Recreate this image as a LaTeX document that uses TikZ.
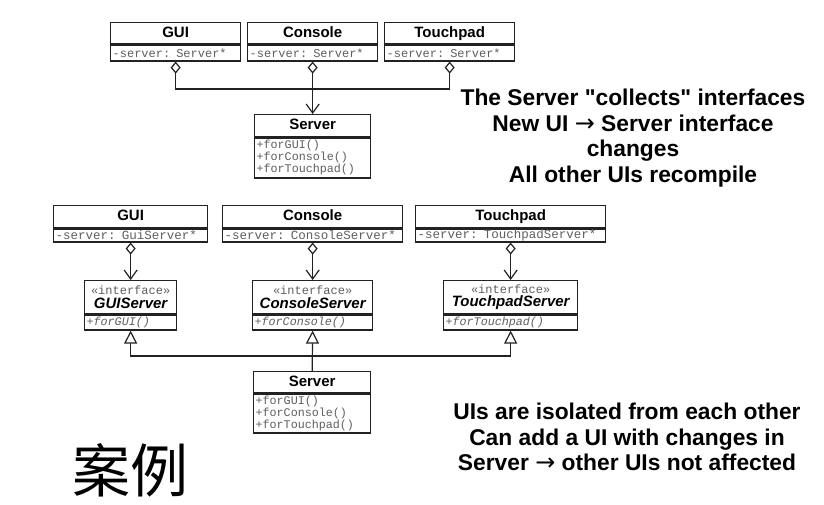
\documentclass[tikz,border=0pt]{standalone}
\usepackage{fontspec}
\setmainfont{Liberation Sans}[Ligatures=TeXOff]
\setmonofont{Liberation Mono}
\newfontfamily\cjk{Noto Sans CJK SC}
\newfontfamily\arrowfont{DejaVu Sans}
\usetikzlibrary{arrows.meta}
\definecolor{monogray}{HTML}{5E5E5E}
\definecolor{edge}{HTML}{222222}
\tikzset{
  hd/.style={draw=edge, line width=1.3pt, anchor=north west, inner sep=0pt,
    text height=11pt, text depth=3pt,
    font=\fontsize{15}{17}\selectfont\bfseries},
  ihd/.style={draw=edge, line width=1.3pt, anchor=north west, inner sep=0pt, align=center,
    font=\fontsize{15}{13.5}\selectfont\bfseries\itshape},
  bd/.style={draw=edge, line width=1.3pt, anchor=north west, inner xsep=2pt, inner ysep=0pt,
    align=left, text=monogray},
  mtop/.style={font=\fontsize{12}{12}\selectfont\ttfamily},
  mlow/.style={font=\fontsize{12.5}{12}\selectfont\ttfamily},
  meth/.style={font=\fontsize{11.7}{12}\selectfont\ttfamily},
  imeth/.style={font=\fontsize{11.7}{12}\selectfont\ttfamily\itshape},
  conn/.style={draw=edge, line width=1.2pt},
  agg/.style={conn, {Diamond[open, length=12pt, width=10pt, line width=1.2pt]}-{Straight Barb[length=9pt, width=13pt, line width=1.2pt]}},
  aggboth/.style={conn, {Diamond[open, length=12pt, width=10pt, line width=1.2pt]}-{Diamond[open, length=12pt, width=10pt, line width=1.2pt]}},
  inh/.style={conn, -{Triangle[open, length=13pt, width=13pt, line width=1.2pt]}},
  inhboth/.style={conn, {Triangle[open, length=13pt, width=13pt, line width=1.2pt]}-{Triangle[open, length=13pt, width=13pt, line width=1.2pt]}},
  note/.style={align=center, font=\fontsize{22.8}{25.7}\selectfont\bfseries},
}
\newcommand{\stereo}{{\fontsize{12}{12}\selectfont\ttfamily\mdseries\upshape\color{monogray}«interface»}}
\newcommand{\rarr}{{\arrowfont\mdseries\fontsize{24}{24}\selectfont →}}
\begin{document}
\begin{tikzpicture}[x=1pt, y=-1pt]
\useasboundingbox (0,0) rectangle (824,505);

% ---------- top diagram ----------
\node[hd, minimum width=130pt, minimum height=21pt] (gui1h) at (110,22) {GUI};
\node[bd, mtop, minimum width=130pt, minimum height=16pt, text width=126pt] (gui1b) at (gui1h.south west) {-server: Server*};

\node[hd, minimum width=130pt, minimum height=21pt] (con1h) at (247,22) {Console};
\node[bd, mtop, minimum width=130pt, minimum height=16pt, text width=126pt] (con1b) at (con1h.south west) {-server: Server*};

\node[hd, minimum width=130pt, minimum height=21pt] (tp1h) at (384,22) {Touchpad};
\node[bd, mtop, minimum width=130pt, minimum height=16pt, text width=126pt] (tp1b) at (tp1h.south west) {-server: Server*};

\node[hd, minimum width=116pt, minimum height=22pt] (srv1h) at (254,114) {Server};
\node[bd, meth, minimum width=116pt, minimum height=40pt, text width=112pt] (srv1b) at (srv1h.south west) {+forGUI()\\+forConsole()\\+forTouchpad()};

\coordinate (j1) at (312,89);
\draw[aggboth] (gui1b.south) |- (j1) -| (tp1b.south);
\draw[agg] (con1b.south) -- (srv1h.north);

\node[note] (note1) at (633,138) {The Server "collects" interfaces\\New UI \rarr{} Server interface\\changes\\All other UIs recompile};

% ---------- bottom diagram ----------
\node[hd, minimum width=154pt, minimum height=22pt] (gui2h) at (53,205) {GUI};
\node[bd, mlow, minimum width=154pt, minimum height=13pt, text width=150pt] (gui2b) at (gui2h.south west) {-server: GuiServer*};

\node[hd, minimum width=180pt, minimum height=22pt] (con2h) at (222,205) {Console};
\node[bd, mlow, minimum width=180pt, minimum height=13pt, text width=176pt] (con2b) at (con2h.south west) {-server: ConsoleServer*};

\node[hd, minimum width=190pt, minimum height=22pt] (tp2h) at (415,205) {Touchpad};
\node[bd, mlow, minimum width=190pt, minimum height=13pt, text width=186pt] (tp2b) at (tp2h.south west) {-server: TouchpadServer*};

\node[ihd, minimum width=92pt, minimum height=33pt] (guish) at (84,280) {\stereo\\GUIServer};
\node[bd, imeth, minimum width=92pt, minimum height=15pt, text width=88pt] (guisb) at (guish.south west) {+forGUI()};

\node[ihd, minimum width=120pt, minimum height=33pt] (consh) at (252,280) {\stereo\\ConsoleServer};
\node[bd, imeth, minimum width=120pt, minimum height=15pt, text width=116pt] (consb) at (consh.south west) {+forConsole()};

\node[ihd, minimum width=134pt, minimum height=33pt] (tpsh) at (443,280) {\stereo\\TouchpadServer};
\node[bd, imeth, minimum width=134pt, minimum height=15pt, text width=130pt] (tpsb) at (tpsh.south west) {+forTouchpad()};

\node[hd, minimum width=117pt, minimum height=21pt] (srv2h) at (253,371) {Server};
\node[bd, meth, minimum width=117pt, minimum height=39pt, text width=113pt] (srv2b) at (srv2h.south west) {+forGUI()\\+forConsole()\\+forTouchpad()};

\draw[agg] (gui2b.south) -- (guish.north);
\draw[agg] (con2b.south) -- (consh.north);
\draw[agg] (tp2b.south) -- (tpsh.north);

\coordinate (j2) at (312,356);
\draw[inhboth] (guisb.south) |- (j2) -| (tpsb.south);
\draw[inh] (srv2h.north) -- (consb.south);

\node[note] (note2) at (627,437) {UIs are isolated from each other\\Can add a UI with changes in\\Server \rarr{} other UIs not affected};

\node[font=\cjk\fontsize{58}{58}\selectfont] (cn) at (130,470) {案例};
\end{tikzpicture}
\end{document}
